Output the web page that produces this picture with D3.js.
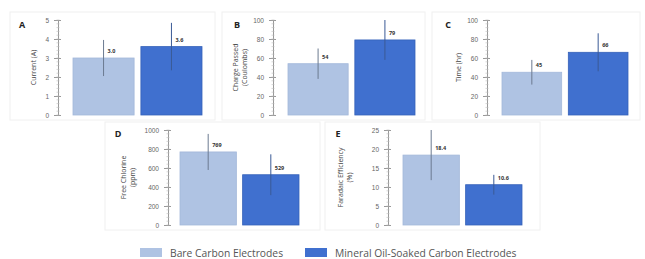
<!DOCTYPE html>
<html><head><meta charset="utf-8">
<script src="https://cdn.jsdelivr.net/npm/d3@7"></script>
<style>body{margin:0;background:#fff;}svg{display:block;font-family:"Open Sans",Arial,sans-serif;}</style>
</head><body>
<script>
const panelLetters = ["A","B","C","D","E"];
const yLabels = [["Current (A)"],["Charge Passed","(Coulombs)"],["Time (hr)"],["Free Chlorine","(ppm)"],["Faradaic Efficiency","(%)"]];
const yMax = [5,100,100,1000,25];
const tickValues = [[0,1,2,3,4,5],[0,20,40,60,80,100],[0,20,40,60,80,100],[0,200,400,600,800,1000],[0,5,10,15,20,25]];
const categories = ["Bare Carbon Electrodes","Mineral Oil-Soaked Carbon Electrodes"];
const bareValues = [3.0,54,45,769,18.4];
const oilValues = [3.6,79,66,529,10.6];
const bareErr = [0.95,16,13,190,6.6];
const oilErr = [1.25,21,20,215,2.6];
const bareLabels = ["3.0","54","45","769","18.4"];
const oilLabels = ["3.6","79","66","529","10.6"];

const colors = ["#afc3e3","#4070cf"];
const W=645,H=259;
const svg=d3.select("body").append("svg").attr("width",W).attr("height",H);

const layout = [
 {box:[10,12,205,108], ax:58, top:20, bot:115, bw:[15,144], lx:22, ly:28, ylx:[34]},
 {box:[222,12,203,108], ax:273, top:20, bot:115, bw:[15,142], lx:237, ly:28, ylx:[236,245]},
 {box:[432,12,208,108], ax:487, top:20, bot:115, bw:[15,141], lx:448, ly:28, ylx:[459]},
 {box:[105,122,215,108], ax:168, top:130, bot:225, bw:[12,131], lx:118, ly:137, ylx:[124,133]},
 {box:[325,122,215,108], ax:388, top:130, bot:225, bw:[15,134], lx:338, ly:137, ylx:[341,350]}
];

panelLetters.forEach((p,i)=>{
  const L=layout[i];
  const g=svg.append("g");
  g.append("rect").attr("x",L.box[0]).attr("y",L.box[1]).attr("width",L.box[2]).attr("height",L.box[3])
    .attr("fill","#fff").attr("stroke","#f0f0f0").attr("stroke-width",1);
  const y=d3.scaleLinear().domain([0,yMax[i]]).range([L.bot,L.top]);
  const x=d3.scaleBand().domain(categories).range([L.ax+L.bw[0],L.ax+L.bw[1]]).paddingInner(0.1);
  const axis=d3.axisLeft(y).tickValues(tickValues[i]).tickFormat(d3.format("d")).tickSize(4).tickPadding(5);
  const ag=g.append("g").attr("transform",`translate(${L.ax},0)`).call(axis);
  ag.select(".domain").attr("stroke","#999");
  ag.selectAll(".tick line").attr("stroke","#999").attr("x2",-4).attr("x1",3);
  ag.selectAll(".tick text").attr("fill","#666").attr("font-size",6.5);
  const minor=d3.range(0,yMax[i]+1e-9,yMax[i]/25);
  ag.selectAll(".minor").data(minor).enter().append("line").attr("x1",-1.5).attr("x2",1.5)
    .attr("y1",d=>y(d)).attr("y2",d=>y(d)).attr("stroke","#bbb").attr("stroke-width",0.6);
  const vals=[bareValues[i],oilValues[i]], errs=[bareErr[i],oilErr[i]], labs=[bareLabels[i],oilLabels[i]];
  categories.forEach((c,j)=>{
    g.append("rect").attr("x",x(c)).attr("y",y(vals[j])).attr("width",x.bandwidth()).attr("height",y(0)-y(vals[j]))
      .attr("fill",colors[j]).attr("stroke",j?"#3561b8":"#a3b8da").attr("stroke-width",0.8);
    const cx=x(c)+x.bandwidth()/2;
    g.append("line").attr("x1",cx).attr("x2",cx).attr("y1",y(vals[j]+errs[j])).attr("y2",y(Math.max(0,vals[j]-errs[j])))
      .attr("stroke",j?"#3a5a95":"#6c7a90").attr("stroke-width",1);
    g.append("text").attr("x",cx+4).attr("y",y(vals[j])-5).text(labs[j])
      .attr("font-size",5.5).attr("font-weight","bold").attr("fill","#333");
  });
  g.append("text").attr("x",L.lx).attr("y",L.ly).text(p).attr("font-size",9).attr("font-weight","bold").attr("fill","#222")
    .attr("text-anchor","middle");
  const midY=(L.top+L.bot)/2;
  yLabels[i].forEach((t,k)=>{
    g.append("text").attr("transform",`translate(${L.ylx[k]},${midY}) rotate(-90)`).attr("text-anchor","middle")
      .attr("dy","0.35em").attr("font-size",7).attr("fill","#444").text(t);
  });
});

const lg=svg.append("g");
const legX=[140,305];
categories.forEach((c,j)=>{
  lg.append("rect").attr("x",legX[j]).attr("y",248).attr("width",22).attr("height",9).attr("fill",colors[j]);
  lg.append("text").attr("x",legX[j]+30).attr("y",253).attr("dy","0.35em").attr("font-size",10.3).attr("fill","#555").text(c);
});
</script>
</body></html>
